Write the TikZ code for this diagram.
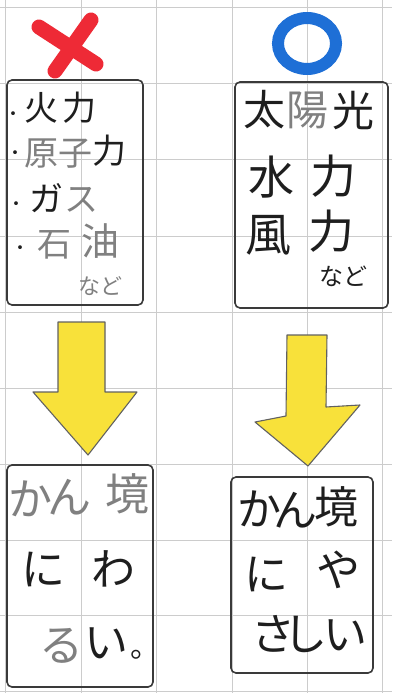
\documentclass[tikz,border=0pt]{standalone}
\usepackage{fontspec}
\newfontfamily\jpfont{Noto Sans CJK JP}
\definecolor{gridc}{HTML}{CCCCCC}
\definecolor{pencil}{HTML}{3A3A3A}
\definecolor{ink}{HTML}{1E1E1E}
\definecolor{lite}{HTML}{808080}
\definecolor{xred}{HTML}{EE2A36}
\definecolor{oblue}{HTML}{1E6FD6}
\definecolor{ayellow}{HTML}{F8E13A}
\tikzset{
  gridline/.style={draw=gridc, line width=0.9pt},
  penbox/.style={draw=pencil, line width=1.6pt, rounded corners=5pt, inner sep=0pt},
  ch/.style={font=\jpfont\fontsize{#1}{#1}\selectfont, inner sep=0pt,
             text height=0.88em, text depth=0.12em, text=ink},
  grey/.style={text=lite},
  blockarrow/.style={fill=ayellow, draw=pencil!80, line width=1.1pt, line join=round}
}
\begin{document}
\begin{tikzpicture}[x=1pt,y=-1pt]
\useasboundingbox (0,0) rectangle (392,693);
\fill[white] (0,0) rectangle (392,693);
% grid
\foreach \gx in {5,81,156,232,307,382} \draw[gridline] (\gx,0) -- (\gx,693);
\foreach \gy in {7,83,159,236,312,388,464,540,615,691} \draw[gridline] (0,\gy) -- (392,\gy);

% marks
\draw[xred, line width=15pt, line cap=round] (39,27) -- (96,64);
\draw[xred, line width=15pt, line cap=round] (91,20) -- (55,71);
\draw[oblue, line width=12pt] (307,43.5) ellipse [x radius=29, y radius=25.5];

% boxes
\node[penbox, minimum width=136pt, minimum height=225pt] (bad) at (75,192.5) {};
\node[penbox, minimum width=153pt, minimum height=226pt] (good) at (311.5,195) {};
\node[penbox, minimum width=146pt, minimum height=222pt] (badres) at (80,576) {};
\node[penbox, minimum width=142pt, minimum height=196pt] (goodres) at (302,575) {};

% top-left text
\node[ch=18] (b1) at (14,117) {・};
\node[ch=34] (b1a) at (41,117) {火};
\node[ch=34] (b1b) at (79,117) {力};
\node[ch=18] (b2) at (15,156) {・};
\node[ch=34, grey] (b2a) at (41,162) {原};
\node[ch=34, grey] (b2b) at (75,162) {子};
\node[ch=34] (b2c) at (109,160) {力};
\node[ch=18] (b3) at (17,207) {・};
\node[ch=34] (b3a) at (46,208) {ガ};
\node[ch=34, grey] (b3b) at (81,208) {ス};
\node[ch=18] (b4) at (20,251) {・};
\node[ch=34, grey] (b4a) at (54,253) {石};
\node[ch=38, grey] (b4b) at (100,252) {油};
\node[ch=22, grey] (b5) at (100,291) {など};

% top-right text
\node[ch=42] (g1a) at (264,122) {太};
\node[ch=42, grey] (g1b) at (307,122) {陽};
\node[ch=42] (g1c) at (353,123) {光};
\node[ch=46] (g2a) at (271,191) {水};
\node[ch=46] (g2b) at (333,190) {力};
\node[ch=46] (g3a) at (268,248) {風};
\node[ch=46] (g3b) at (331,245) {力};
\node[ch=24] (g4) at (343,282) {など};

% arrows
\draw[blockarrow] (58,322) -- (105,322) -- (105,392) -- (137,392) -- (88,455)
  -- (33,392) -- (58,392) -- cycle;
\draw[blockarrow] (287,335) -- (327,335) -- (326,407) -- (360,405) -- (308,466)
  -- (255,422) -- (286,416) -- cycle;

% bottom-left text
\node[ch=44, grey] (r1a) at (31,512) {か};
\node[ch=44, grey] (r1b) at (69,510) {ん};
\node[ch=44, grey] (r1c) at (127,507) {境};
\node[ch=44] (r2a) at (43,582) {に};
\node[ch=44] (r2b) at (113,582) {わ};
\node[ch=44, grey] (r3a) at (61,658) {る};
\node[ch=44] (r3b) at (106,655) {い};
\node[ch=30] (r3c) at (145,654) {。};

% bottom-right text
\node[ch=44] (s1a) at (259,522) {か};
\node[ch=44] (s1b) at (295,523) {ん};
\node[ch=44] (s1c) at (336,520) {境};
\node[ch=44] (s2a) at (266,587) {に};
\node[ch=44] (s2b) at (338,583) {や};
\node[ch=44] (s3a) at (273,647) {さ};
\node[ch=44] (s3b) at (305,647) {し};
\node[ch=44] (s3c) at (345,647) {い};
\end{tikzpicture}
\end{document}
